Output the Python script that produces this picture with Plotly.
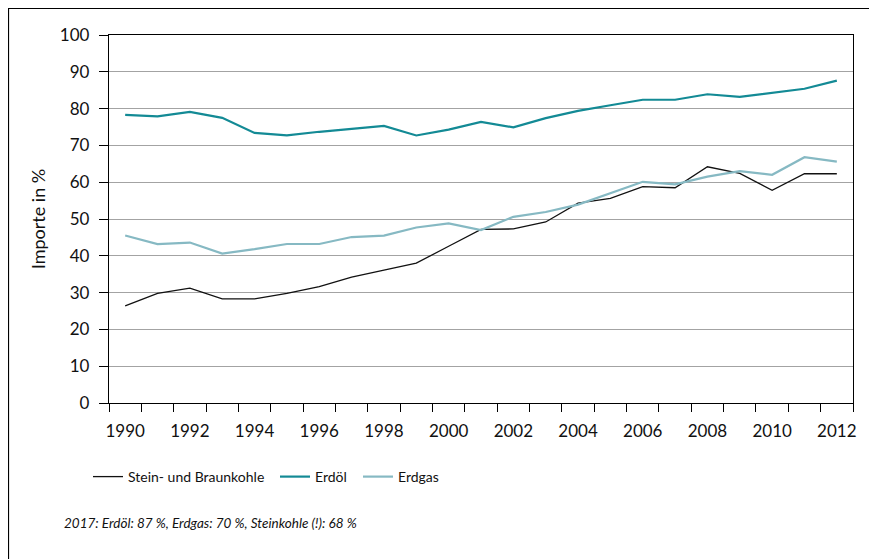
import plotly.graph_objects as go

# Importabhängigkeit Deutschlands, Anteil der Importe in %
jahre = list(range(1990, 2013))

kohle = [26.4, 29.8, 31.2, 28.3, 28.3, 29.8, 31.6, 34.2, 36.1, 38.0, 42.6, 47.2,
         47.3, 49.2, 54.3, 55.6, 58.8, 58.5, 64.2, 62.4, 57.8, 62.3, 62.3]
erdoel = [78.3, 77.9, 79.1, 77.5, 73.4, 72.7, 73.7, 74.5, 75.3, 72.7, 74.3, 76.4,
          74.9, 77.4, 79.4, 80.9, 82.4, 82.4, 83.9, 83.2, 84.2, 85.4, 87.6]
erdgas = [45.5, 43.2, 43.6, 40.6, 41.8, 43.2, 43.2, 45.1, 45.5, 47.7, 48.8, 47.0,
          50.6, 51.9, 53.9, 57.0, 60.1, 59.4, 61.5, 63.0, 62.0, 66.8, 65.6]

x_labels = list(range(1990, 2013, 2))
y_ticks = list(range(0, 101, 10))

# die Seite hat 8px Rand, deshalb alles um 8px verschoben
W, H = 869, 551
L, R, T, B = 101, 24, 27, 156
pw, ph = W - L - R, H - T - B

font = "Lato, Noto Sans, sans-serif"

fig = go.Figure()
fig.add_trace(go.Scatter(x=jahre, y=kohle, name="Stein- und Braunkohle", mode="lines",
                         line=dict(color="#111111", width=1.3), legend="legend"))
fig.add_trace(go.Scatter(x=jahre, y=erdoel, name="Erdöl", mode="lines",
                         line=dict(color="#138a95", width=2.2), legend="legend2"))
fig.add_trace(go.Scatter(x=jahre, y=erdgas, name="Erdgas", mode="lines",
                         line=dict(color="#86b9c3", width=2.2), legend="legend3"))

fig.update_xaxes(
    range=[1989.5, 2012.5], tickmode="array", tickvals=x_labels,
    ticks="", showgrid=False, zeroline=False,
    showline=True, linecolor="black", linewidth=1.3, mirror=True,
    ticklabelstandoff=12,
    tickfont=dict(size=17, color="#111111"),
    minor=dict(tickmode="linear", tick0=1989.5, dtick=1, ticks="outside",
               ticklen=8, tickcolor="black", tickwidth=1, showgrid=False),
)
fig.update_yaxes(
    range=[0, 100], tickmode="array", tickvals=y_ticks,
    ticks="outside", ticklen=9, tickcolor="black", tickwidth=1,
    showgrid=True, gridcolor="#a3a3a3", gridwidth=1.4, zeroline=False,
    showline=True, linecolor="black", linewidth=1.3, mirror=True,
    ticklabelstandoff=6,
    tickfont=dict(size=17, color="#111111"),
    title=dict(text="Importe in %", font=dict(size=18, color="#111111"), standoff=9),
)

# Rahmen um die Grafik
fig.add_shape(type="rect", xref="paper", yref="paper",
              x0=(0.5 - L) / pw, x1=1.2, y0=-1.0, y1=(H - B - 0.5) / ph,
              line=dict(color="black", width=1.2), layer="below")

fig.add_annotation(text="<i>2017: Erdöl: 87 %, Erdgas: 70 %, Steinkohle (!): 68 %</i>",
                   xref="paper", yref="paper", x=(54 - L) / pw, y=(H - B - 515) / ph,
                   xanchor="left", yanchor="middle", showarrow=False,
                   font=dict(size=13.5, color="#111111"))

leg = dict(orientation="h", xref="container", yref="container",
           y=1 - 469 / H, xanchor="left", yanchor="middle",
           font=dict(size=14), itemwidth=30, bgcolor="rgba(0,0,0,0)")
fig.update_layout(
    width=W, height=H,
    margin=dict(l=L, r=R, t=T, b=B),
    paper_bgcolor="white", plot_bgcolor="white",
    font=dict(family=font, color="#111111"),
    showlegend=True,
    legend=dict(leg, x=80 / W),
    legend2=dict(leg, x=267 / W),
    legend3=dict(leg, x=350 / W),
)

fig.write_html("out.html")
